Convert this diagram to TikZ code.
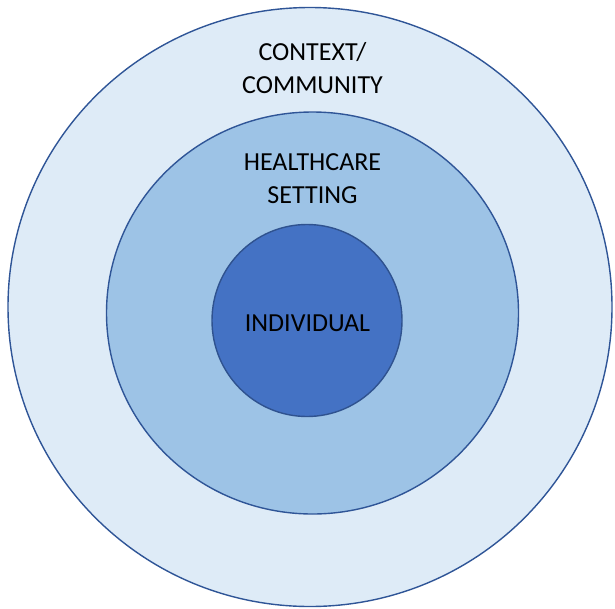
\documentclass[tikz,border=0pt]{standalone}
\usepackage{fontspec}
\setmainfont{Carlito}
\usetikzlibrary{shapes.geometric}
\definecolor{ringline}{HTML}{2F5597}
\definecolor{coreline}{HTML}{2F528F}
\definecolor{outerfill}{HTML}{DEEBF7}
\definecolor{midfill}{HTML}{9DC3E6}
\definecolor{corefill}{HTML}{4472C4}
\begin{document}
\begin{tikzpicture}[x=1pt,y=-1pt,
  ring/.style={ellipse, draw=ringline, line width=1.4pt, inner sep=0pt},
  label/.style={font=\fontsize{26}{33}\selectfont, text=black, align=center, inner sep=0pt, anchor=base}]
  \useasboundingbox (0,0) rectangle (615,608);
  \node[ring, fill=outerfill, minimum width=604pt, minimum height=599pt] (context) at (310,307) {};
  \node[ring, fill=midfill, minimum width=412pt, minimum height=402pt] (healthcare) at (312.5,313) {};
  \node[ring, draw=coreline, fill=corefill, minimum width=190pt, minimum height=192pt] (individual) at (307,320.5) {};
  % anchor=base of a two-line label sits on its last line
  \node[label] (contextText) at (312.5,93) {CONTEXT/\\COMMUNITY};
  \node[label] (healthText) at (312.5,203.5) {HEALTHCARE\\SETTING};
  \node[label] (indText) at (307.5,331) {INDIVIDUAL};
\end{tikzpicture}
\end{document}
